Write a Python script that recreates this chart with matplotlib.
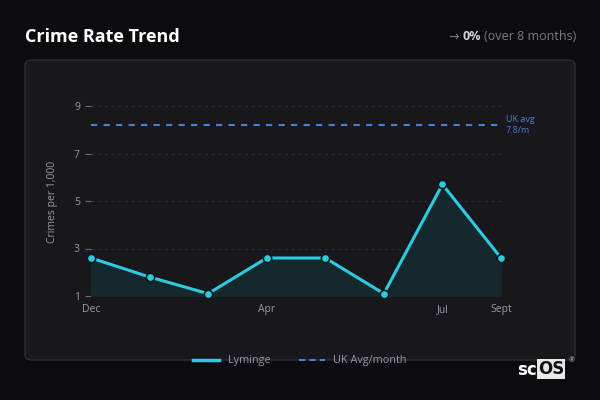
import matplotlib
matplotlib.use("Agg")
import matplotlib.pyplot as plt
from matplotlib.patches import FancyBboxPatch
from matplotlib.lines import Line2D

plt.rcParams['font.family'] = ['Open Sans', 'DejaVu Sans']

x_idx = [0, 1, 2, 3, 4, 5, 6, 7]
values = [2.6, 1.8, 1.1, 2.6, 2.6, 1.1, 5.7, 2.6]
tick_pos = [0, 3, 6, 7]
tick_labels = ['Dec', 'Apr', 'Jul', 'Sept']
uk_avg_line = 8.2
y_ticks = [1, 3, 5, 7, 9]

BG = '#0c0c10'
PANEL = '#17171c'
CYAN = '#2ccbe0'
BLUE = '#4a7fd6'

fig = plt.figure(figsize=(6, 4), dpi=100, facecolor=BG)

# panel
panel = FancyBboxPatch((25/600, 1-360/400), 550/600, 300/400,
                       boxstyle="round,pad=0,rounding_size=0.012",
                       transform=fig.transFigure, facecolor=PANEL,
                       edgecolor='#34343a', linewidth=0.8, zorder=-5)
fig.patches.append(panel)

ymin, ymax = 1, 9.5
ax_left, ax_right = 91/600, 501/600
ppu = 190/8
top_px = 296 - (ymax - 1) * ppu
ax = fig.add_axes([ax_left, 1-296/400, ax_right-ax_left, (296-top_px)/400])
ax.set_facecolor('none')
ax.set_xlim(0, 7)
ax.set_ylim(ymin, ymax)

for s in ax.spines.values():
    s.set_visible(False)

for y in y_ticks:
    ax.axhline(y, color='#2c2c33', lw=0.8, ls=(0, (3, 3)), zorder=1)

ax.fill_between(x_idx, values, ymin, color='#15282e', alpha=1, zorder=2)
ax.plot(x_idx, values, color=CYAN, lw=2.2, zorder=4,
        marker='o', markersize=6, markerfacecolor=CYAN,
        markeredgecolor='#0c1a1e', markeredgewidth=1.2, clip_on=False)
ax.plot([0, 7], [uk_avg_line, uk_avg_line], color=BLUE, lw=1.5,
        ls=(0, (3, 3)), zorder=3)

ax.text(7.08, uk_avg_line, 'UK avg\n7.8/m', color=BLUE, fontsize=6.5,
        va='center', ha='left', linespacing=1.2)

ax.set_yticks(y_ticks)
ax.set_yticklabels([str(v) for v in y_ticks], color='#9a9aa2', fontsize=7.5)
ax.tick_params(axis='y', length=4, color='#6a6a72', width=0.8, pad=4)
ax.set_xticks(tick_pos)
ax.set_xticklabels(tick_labels, color='#9a9aa2', fontsize=7.5)
ax.tick_params(axis='x', length=0, pad=6)
ax.set_ylabel('Crimes per 1,000', color='#9a9aa2', fontsize=7.5)
ax.yaxis.set_label_coords(-0.08, (296-202)/(296-top_px))

handles = [Line2D([], [], color=CYAN, lw=2.5),
           Line2D([], [], color=BLUE, lw=1.5, ls=(0, (3, 2)))]
fig.legend(handles, ['Lyminge', 'UK Avg/month'], loc='center',
           bbox_to_anchor=(300/600, 1-361/400), ncol=2,
           frameon=False, fontsize=7.8, handlelength=2.4,
           columnspacing=2.6, labelcolor='#9a9aa2')

fig.text(25/600, 1-37/400, 'Crime Rate Trend', color='white', fontsize=13,
         fontweight='bold', va='center', ha='left')

# subtitle composed right-to-left
renderer = fig.canvas.get_renderer()
xr = 576
parts = [('(over 8 months)', '#7a7a82', 'normal'),
         ('0%', '#cfcfd5', 'bold'),
         ('\u2192', '#7a7a82', 'normal')]
for txt, col, wt in parts:
    t = fig.text(xr/600, 1-37/400, txt, color=col, fontsize=9, fontweight=wt,
                 va='center', ha='right')
    w = t.get_window_extent(renderer).width
    xr = xr - w - 3

# logo
fig.text(537/600, 1-370/400, 'sc', color='white', fontsize=12,
         fontweight='bold', va='center', ha='right', family=['DejaVu Sans'])
fig.text(538/600, 1-369/400, 'OS', color='#111', fontsize=12,
         fontweight='bold', va='center', ha='left', family=['DejaVu Sans'],
         bbox=dict(boxstyle='square,pad=0.05', facecolor='#e8e8e8', edgecolor='none'))
fig.text(572/600, 1-361/400, '\u00ae', color='#cccccc', fontsize=5,
         va='center', ha='center')

fig.savefig('out.png', dpi=100, facecolor=BG)
